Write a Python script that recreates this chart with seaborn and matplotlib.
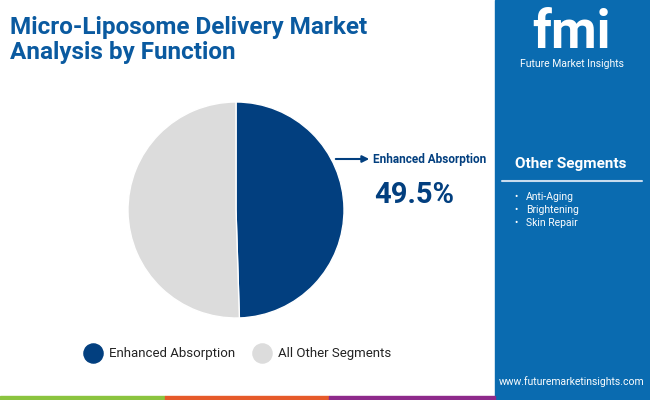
import matplotlib
matplotlib.use("Agg")
import matplotlib.pyplot as plt
import seaborn as sns
from matplotlib.patches import Rectangle

labels = ["Enhanced Absorption", "All Other Segments"]
shares = [49.5, 50.5]
colors = ["#023f7f", "#dcdcdc"]
other_segments = ["Anti-Aging", "Brightening", "Skin Repair"]

sns.set_style("white")
plt.rcParams["font.family"] = "Roboto"

W, H = 650, 400
fig = plt.figure(figsize=(6.5, 4), dpi=100)
bg = fig.add_axes([0, 0, 1, 1])
bg.set_xlim(0, W)
bg.set_ylim(H, 0)
bg.axis("off")

# right panel
bg.add_patch(Rectangle((495, 0), 155, 400, color="#0a6bb0"))
bg.add_patch(Rectangle((0, 396), 165, 4, color="#8bc43f"))
bg.add_patch(Rectangle((165, 396), 164, 4, color="#e65a2a"))
bg.add_patch(Rectangle((329, 396), 166, 4, color="#8e2a8b"))

bg.text(10, 40, "Micro-Liposome Delivery Market\nAnalysis by Function", fontsize=17.5,
        fontweight="bold", color="#0a5aa0", va="center", linespacing=1.1)

# logo
bg.text(572, 33, "fmi", fontsize=38, fontweight="bold", color="white", ha="center", va="center")
bg.text(572, 64, "Future Market Insights", fontsize=7.5, color="white", ha="center", va="center")

bg.text(571, 164, "Other Segments", fontsize=11, fontweight="bold", color="white", ha="center", va="center")
bg.plot([502, 642], [181, 181], color="#c8dcee", lw=1.5)
for i, s in enumerate(other_segments):
    y = 197 + i * 13
    bg.text(514, y, "•", fontsize=7, color="white", va="center")
    bg.text(526, y, s, fontsize=7.5, color="white", va="center")
bg.text(572, 382, "www.futuremarketinsights.com", fontsize=7.5, color="white", ha="center", va="center")

# pie
R = 108
ax = fig.add_axes([(236 - R) / W, 1 - (210 + R) / H, 2 * R / W, 2 * R / H])
ax.pie(shares, colors=colors, startangle=90, counterclock=False)
ax.set_xlim(-1, 1)
ax.set_ylim(-1, 1)
ax.set_aspect("equal")
ax.axis("off")

bg.annotate("", xy=(372, 159), xytext=(333, 159),
            arrowprops=dict(arrowstyle="-|>", color="#023f7f", lw=1.5))
bg.text(373, 159, "Enhanced Absorption", fontsize=8.5, fontweight="bold", color="#023f7f", va="center")
bg.text(374, 195, f"{shares[0]}%", fontsize=21, fontweight="bold", color="#023f7f", va="center")

# legend
for x, lab, c in [(93, labels[0], colors[0]), (262, labels[1], colors[1])]:
    bg.scatter([x], [353], s=190, color=c)
    bg.text(x + 16, 353, lab, fontsize=9.5, color="#222222", va="center")

fig.savefig("out.png", dpi=100)
